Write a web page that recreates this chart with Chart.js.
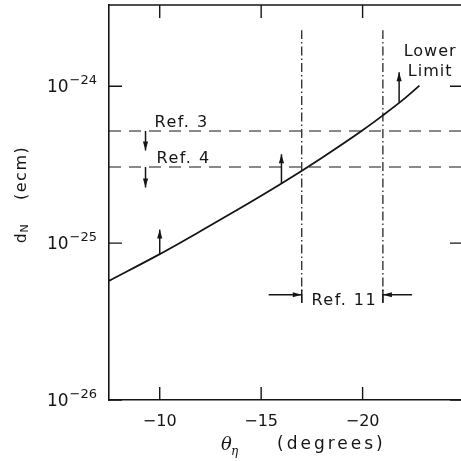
<!DOCTYPE html>
<html>
<head>
<meta charset="utf-8">
<script src="https://cdn.jsdelivr.net/npm/chart.js@4.4.1/dist/chart.umd.min.js"></script>
<style>
html,body{margin:0;padding:0;background:#fff;}
#wrap{width:461px;height:461px;}
</style>
</head>
<body>
<div id="wrap"><canvas id="c" width="461" height="461"></canvas></div>
<script>
// ---- data ----
const curveX = [-7.5, -10, -12, -14, -16, -18, -20, -21, -22, -22.8];
const curveY = [5.75e-26, 8.51e-26, 1.19e-25, 1.68e-25, 2.40e-25, 3.51e-25, 5.25e-25, 6.53e-25, 8.22e-25, 1.01e-24];

const refLabels = ['Ref. 3', 'Ref. 4'];
const refValues = [5.19e-25, 3.06e-25];
const refDownArrowX = -9.3;
const refDownArrowTo = [3.9e-25, 2.26e-25];

const ref11Label = 'Ref. 11';
const ref11X = [-17, -21];
const ref11Span = [4.15e-26, 2.28e-24];
const ref11ArrowY = 4.69e-26;
const ref11ArrowFrom = [-15.37, -22.44];

const limitLabel = ['Lower', 'Limit'];
const upArrowX = [-10, -16, -21.8];
const upArrowFrom = [8.5e-26, 2.42e-25, 7.9e-25];
const upArrowTo = [1.22e-25, 3.69e-25, 1.23e-24];

const xTickValues = [-10, -15, -20];
const yTickValues = [1e-26, 1e-25, 1e-24];
const xRange = [-24.85, -7.5];
const yRange = [1e-26, 3.3e-24];

// ---- build datasets ----
const INK = '#151515';
const datasets = [];
datasets.push({
  data: curveX.map((x, i) => ({x, y: curveY[i]})),
  borderColor: INK, borderWidth: 1.8, pointRadius: 0,
  cubicInterpolationMode: 'monotone', fill: false
});
refValues.forEach(v => datasets.push({
  data: [{x: xRange[1], y: v}, {x: xRange[0], y: v}],
  borderColor: INK, borderWidth: 1.2, borderDash: [12, 8], pointRadius: 0
}));
ref11X.forEach(x => datasets.push({
  data: [{x, y: ref11Span[0]}, {x, y: ref11Span[1]}],
  borderColor: INK, borderWidth: 1.2, borderDash: [9, 3, 1.5, 3], pointRadius: 0
}));
const arrowSets = [];
upArrowX.forEach((x, i) => arrowSets.push([{x, y: upArrowFrom[i]}, {x, y: upArrowTo[i]}]));
refValues.forEach((v, i) => arrowSets.push([{x: refDownArrowX, y: v}, {x: refDownArrowX, y: refDownArrowTo[i]}]));
ref11ArrowFrom.forEach((x, i) => arrowSets.push([{x, y: ref11ArrowY}, {x: ref11X[i], y: ref11ArrowY}]));
const arrowStart = datasets.length;
arrowSets.forEach(d => datasets.push({
  data: d, borderColor: INK, borderWidth: 1.5, pointRadius: 0
}));

const FONT = 'DejaVu Sans';

const decor = {
  id: 'decor',
  afterDraw(chart) {
    const ctx = chart.ctx, ca = chart.chartArea;
    const xs = chart.scales.x, ys = chart.scales.y;
    ctx.save();
    ctx.strokeStyle = INK; ctx.fillStyle = INK;
    // top frame line
    ctx.lineWidth = 1.6;
    ctx.beginPath(); ctx.moveTo(ca.left, ca.top); ctx.lineTo(ca.right, ca.top); ctx.stroke();
    // inward ticks
    ctx.lineWidth = 1.4;
    xTickValues.forEach(v => {
      const px = xs.getPixelForValue(v);
      ctx.beginPath();
      ctx.moveTo(px, ca.bottom); ctx.lineTo(px, ca.bottom - 13);
      ctx.moveTo(px, ca.top); ctx.lineTo(px, ca.top + 13);
      ctx.stroke();
    });
    yTickValues.forEach(v => {
      const py = ys.getPixelForValue(v);
      ctx.beginPath();
      ctx.moveTo(ca.left, py); ctx.lineTo(ca.left + 13, py);
      ctx.moveTo(ca.right, py); ctx.lineTo(ca.right - 11, py);
      ctx.stroke();
    });
    // y tick labels 10^n
    ctx.textBaseline = 'alphabetic';
    ctx.textAlign = 'left';
    yTickValues.forEach(v => {
      const py = ys.getPixelForValue(v);
      const e = Math.round(Math.log10(v));
      const base = '10', sup = '\u2212' + Math.abs(e);
      ctx.font = '17px "' + FONT + '"';
      const wb = ctx.measureText(base).width;
      ctx.font = '13px "' + FONT + '"';
      const ws = ctx.measureText(sup).width;
      const x0 = ca.left - 12 - wb - ws - 1;
      ctx.font = '17px "' + FONT + '"';
      ctx.fillText(base, x0, py + 6);
      ctx.font = '13px "' + FONT + '"';
      ctx.fillText(sup, x0 + wb + 1, py - 2);
    });
    // arrowheads
    for (let i = arrowStart; i < chart.data.datasets.length; i++) {
      const pts = chart.getDatasetMeta(i).data;
      const a = pts[0], b = pts[1];
      const ang = Math.atan2(b.y - a.y, b.x - a.x);
      const L = 9, W = 2.6;
      ctx.save();
      ctx.translate(b.x, b.y); ctx.rotate(ang);
      ctx.beginPath(); ctx.moveTo(0, 0); ctx.lineTo(-L, -W); ctx.lineTo(-L, W); ctx.closePath(); ctx.fill();
      ctx.restore();
    }
    // short bars at Ref. 11 arrow tips
    ctx.lineWidth = 1.4;
    ref11X.forEach(x => {
      const px = xs.getPixelForValue(x), py = ys.getPixelForValue(ref11ArrowY);
      ctx.beginPath(); ctx.moveTo(px, py - 5); ctx.lineTo(px, py + 8); ctx.stroke();
    });
    // annotation texts
    ctx.letterSpacing = '1.5px';
    ctx.font = '16px "' + FONT + '"';
    ctx.textAlign = 'left';
    refLabels.forEach((t, i) => {
      const py = ys.getPixelForValue(refValues[i]);
      ctx.fillText(t, xs.getPixelForValue(refDownArrowX) + 9 + i * 2, py - 4);
    });
    ctx.textAlign = 'center';
    const r11x = (xs.getPixelForValue(ref11X[0]) + xs.getPixelForValue(ref11X[1])) / 2;
    ctx.fillText(ref11Label, r11x + 2, ys.getPixelForValue(ref11ArrowY) + 10);
    const llx = xs.getPixelForValue(upArrowX[2]) + 31;
    ctx.letterSpacing = '1px';
    ctx.fillText(limitLabel[0], llx, 56);
    ctx.fillText(limitLabel[1], llx, 76);
    // x axis title: theta_eta (degrees)
    ctx.textAlign = 'left';
    ctx.letterSpacing = '0px';
    ctx.font = 'italic 18px "DejaVu Serif"';
    ctx.fillText('\u03b8', 221, 450);
    ctx.font = 'italic 12px "DejaVu Serif"';
    ctx.fillText('\u03b7', 231, 455);
    ctx.letterSpacing = '3px';
    ctx.font = '17px "' + FONT + '"';
    ctx.fillText('(degrees)', 277, 449);
    // y axis title: d_N (ecm)
    ctx.save();
    ctx.translate(26, 243); ctx.rotate(-Math.PI / 2);
    ctx.letterSpacing = '0px';
    ctx.font = '15px "' + FONT + '"';
    ctx.fillText('d', 0, 0);
    const wd = ctx.measureText('d').width;
    ctx.font = '11px "' + FONT + '"';
    ctx.fillText('N', wd + 1, 2);
    ctx.letterSpacing = '1.5px';
    ctx.font = '16px "' + FONT + '"';
    ctx.fillText('(ecm)', 43, 0);
    ctx.restore();
    ctx.restore();
  }
};

new Chart(document.getElementById('c'), {
  type: 'line',
  data: {datasets},
  options: {
    responsive: false, animation: false,
    layout: {padding: {top: 5, right: 0, left: 0, bottom: 0}},
    plugins: {legend: {display: false}, tooltip: {enabled: false}},
    elements: {line: {tension: 0}},
    scales: {
      x: {
        type: 'linear', reverse: true, min: xRange[0], max: xRange[1],
        grid: {display: false, drawTicks: false},
        border: {display: true, color: INK, width: 1.6},
        afterBuildTicks: s => { s.ticks = xTickValues.map(v => ({value: v})); },
        afterFit: s => { s.height = 61; },
        ticks: {
          padding: 12, color: INK, font: {family: FONT, size: 16},
          maxRotation: 0, autoSkip: false,
          callback: v => '\u2212' + Math.abs(v)
        }
      },
      y: {
        type: 'logarithmic', min: yRange[0], max: yRange[1],
        grid: {display: false, drawTicks: false},
        border: {display: true, color: INK, width: 1.6},
        afterBuildTicks: s => { s.ticks = yTickValues.map(v => ({value: v})); },
        afterFit: s => { s.width = 109; },
        ticks: {display: false}
      }
    }
  },
  plugins: [decor]
});
</script>
</body>
</html>
